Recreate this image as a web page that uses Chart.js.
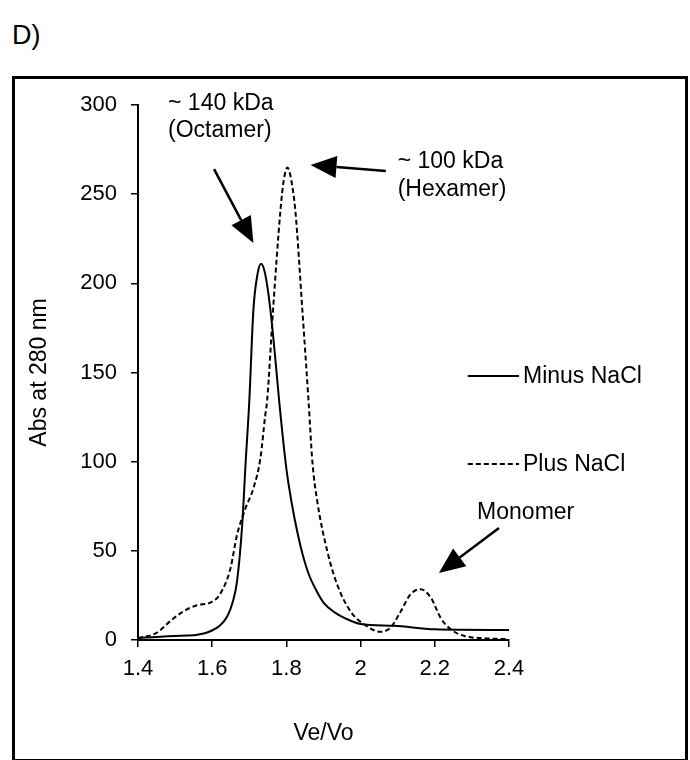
<!DOCTYPE html>
<html>
<head>
<meta charset="utf-8">
<script src="https://cdn.jsdelivr.net/npm/chart.js@4.4.0/dist/chart.umd.min.js"></script>
<style>
  body { margin: 0; background: #fff; font-family: "Liberation Sans", Arial, sans-serif; }
  #wrap { position: relative; width: 690px; height: 760px; overflow: hidden; }
  #panel { position: absolute; left: 12px; top: 20px; font-size: 27px; color: #000; }
  #frame { position: absolute; left: 12px; top: 76px; width: 670px; height: 680px; border: 3px solid #000; }
  #sec { position: absolute; left: 0; top: 0; }
</style>
</head>
<body>
<div id="wrap">
  <div id="panel">D)</div>
  <div id="frame"></div>
  <canvas id="sec" width="690" height="760"></canvas>
</div>
<script>
// Ve/Vo positions and absorbance
const minusX = [1.40, 1.47, 1.53, 1.56, 1.59, 1.62, 1.64, 1.655, 1.667, 1.681, 1.69, 1.70, 1.711, 1.722, 1.732, 1.743, 1.757, 1.77, 1.781, 1.80, 1.815, 1.83, 1.845, 1.86, 1.88, 1.90, 1.93, 1.96, 2.00, 2.09, 2.20, 2.40];
const minusY = [1, 2, 2.5, 3, 4.5, 8, 13, 21, 33, 65, 99, 134, 185, 205, 211, 205, 185, 158, 133, 96, 76, 60, 47, 37, 28, 21, 15.5, 12, 9, 8, 6, 5.6];

const plusX = [1.40, 1.45, 1.487, 1.522, 1.559, 1.595, 1.622, 1.649, 1.667, 1.69, 1.711, 1.73, 1.743, 1.748, 1.764, 1.784, 1.793, 1.803, 1.813, 1.824, 1.843, 1.86, 1.87, 1.883, 1.91, 1.937, 1.973, 2.008, 2.054, 2.081, 2.108, 2.135, 2.162, 2.19, 2.216, 2.243, 2.28, 2.33, 2.397];
const plusY = [1, 4, 10.6, 16, 19.5, 21, 26, 40, 59, 74, 85, 102, 126, 134, 185, 241, 258, 265, 258, 241, 185, 133, 100, 78, 50, 31, 16, 9, 4.6, 7, 16, 25.7, 28.5, 23.5, 12.3, 6, 2.2, 1, 0.5];

const xTicks = [1.4, 1.6, 1.8, 2.0, 2.2, 2.4];
const xTickLabels = ['1.4', '1.6', '1.8', '2', '2.2', '2.4'];
const yTicks = [0, 50, 100, 150, 200, 250, 300];

const seriesNames = ['Minus NaCl', 'Plus NaCl'];

// annotation text, anchored in data units
const noteTexts = [
  { x: 1.481, y: [301, 285.4], lines: ['~ 140 kDa', '(Octamer)'] },
  { x: 2.10, y: [268, 252.3], lines: ['~ 100 kDa', '(Hexamer)'] },
  { x: 2.314, y: [71.5], lines: ['Monomer'] }
];
const noteArrows = [
  { from: [1.605, 264], to: [1.711, 222.6] },
  { from: [2.068, 263], to: [1.865, 266.4] },
  { from: [2.373, 62.8], to: [2.211, 37.6] }
];
const legendAt = { x0: 2.289, x1: 2.427, y: [148, 98.7] };

const FONT = '"Liberation Sans", Arial, sans-serif';

function drawArrow(ctx, x0, y0, x1, y1) {
  const ang = Math.atan2(y1 - y0, x1 - x0);
  const len = 26, half = 11;
  const bx = x1 - len * Math.cos(ang), by = y1 - len * Math.sin(ang);
  ctx.beginPath();
  ctx.moveTo(x0, y0);
  ctx.lineTo(bx, by);
  ctx.lineWidth = 2.5;
  ctx.stroke();
  ctx.beginPath();
  ctx.moveTo(x1, y1);
  ctx.lineTo(bx + half * Math.sin(ang), by - half * Math.cos(ang));
  ctx.lineTo(bx - half * Math.sin(ang), by + half * Math.cos(ang));
  ctx.closePath();
  ctx.fill();
}

const notesPlugin = {
  id: 'notes',
  afterDatasetsDraw(chart) {
    const { ctx, scales: { x, y } } = chart;
    ctx.save();
    ctx.fillStyle = '#000';
    ctx.strokeStyle = '#000';
    ctx.font = '23px ' + FONT;
    ctx.textBaseline = 'middle';
    ctx.textAlign = 'left';
    noteTexts.forEach(n => {
      n.lines.forEach((t, i) => ctx.fillText(t, x.getPixelForValue(n.x), y.getPixelForValue(n.y[i])));
    });
    noteArrows.forEach(a => drawArrow(ctx,
      x.getPixelForValue(a.from[0]), y.getPixelForValue(a.from[1]),
      x.getPixelForValue(a.to[0]), y.getPixelForValue(a.to[1])));

    // legend
    chart.data.datasets.forEach((ds, i) => {
      const ly = y.getPixelForValue(legendAt.y[i]);
      const lx0 = x.getPixelForValue(legendAt.x0), lx1 = x.getPixelForValue(legendAt.x1);
      ctx.beginPath();
      ctx.setLineDash(ds.borderDash || []);
      ctx.lineWidth = ds.borderWidth;
      ctx.moveTo(lx0, ly);
      ctx.lineTo(lx1, ly);
      ctx.stroke();
      ctx.setLineDash([]);
      ctx.fillText(ds.label, lx1 + 4, ly + 1);
    });
    ctx.restore();
  }
};

const toPoints = (xs, ys) => xs.map((v, i) => ({ x: v, y: ys[i] }));

new Chart(document.getElementById('sec').getContext('2d'), {
  type: 'line',
  data: {
    datasets: [
      {
        label: seriesNames[0],
        data: toPoints(minusX, minusY),
        borderColor: '#000',
        borderWidth: 2,
        pointRadius: 0,
        cubicInterpolationMode: 'monotone',
        fill: false
      },
      {
        label: seriesNames[1],
        data: toPoints(plusX, plusY),
        borderColor: '#000',
        borderWidth: 2,
        borderDash: [5, 3],
        pointRadius: 0,
        cubicInterpolationMode: 'monotone',
        fill: false
      }
    ]
  },
  options: {
    responsive: false,
    animation: false,
    devicePixelRatio: 1,
    layout: { padding: { top: 105, right: 181, bottom: 0, left: 0 } },
    plugins: { legend: { display: false }, tooltip: { enabled: false } },
    scales: {
      x: {
        type: 'linear',
        min: 1.4,
        max: 2.4,
        afterBuildTicks: s => { s.ticks = xTicks.map(v => ({ value: v })); },
        afterFit: s => { s.height = 120; },
        ticks: {
          color: '#000',
          font: { family: FONT, size: 22 },
          padding: 9,
          maxRotation: 0,
          callback: (v, i) => xTickLabels[i]
        },
        grid: { drawOnChartArea: false, drawTicks: true, tickLength: 7, color: '#000', lineWidth: 1.5 },
        border: { color: '#000', width: 2 },
        title: { display: true, text: 'Ve/Vo', color: '#000', font: { family: FONT, size: 23 }, padding: { top: 0, bottom: 13 } }
      },
      y: {
        min: 0,
        max: 300,
        afterBuildTicks: s => { s.ticks = yTicks.map(v => ({ value: v })); },
        afterFit: s => { s.width = 138; },
        ticks: { color: '#000', font: { family: FONT, size: 22 }, padding: 14 },
        grid: { drawOnChartArea: false, drawTicks: true, tickLength: 7, color: '#000', lineWidth: 1.5 },
        border: { color: '#000', width: 2 },
        title: { display: true, text: 'Abs at 280 nm', color: '#000', font: { family: FONT, size: 23 }, padding: { top: 26, bottom: 0 } }
      }
    }
  },
  plugins: [notesPlugin]
});
</script>
</body>
</html>
